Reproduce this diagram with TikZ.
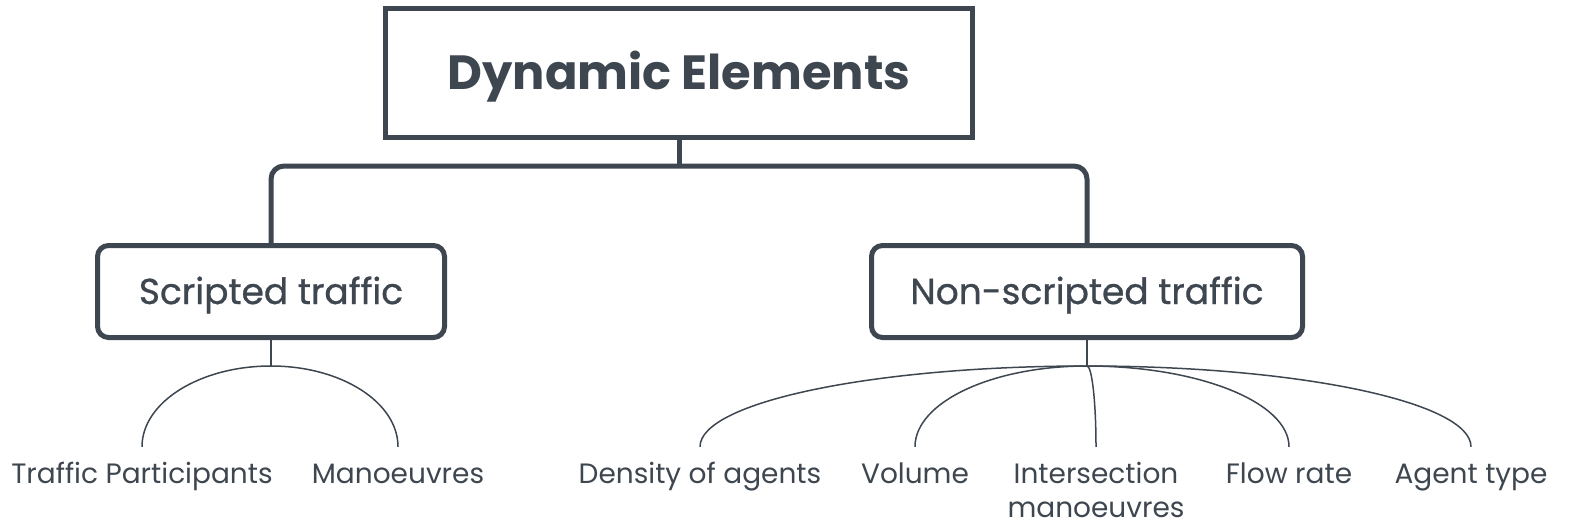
\documentclass[tikz,border=0pt]{standalone}
\usepackage{fontspec}
\setmainfont{Poppins}
\newfontfamily\medfont[FakeBold=0.8]{Poppins}
\usetikzlibrary{calc}
\definecolor{ink}{RGB}{62,70,80}
\begin{document}
\begin{tikzpicture}[x=1pt,y=-1pt,
  mainbox/.style={draw=ink,line width=5pt,text=ink,font=\bfseries\fontsize{48}{52}\selectfont,
    minimum width=587pt,minimum height=129pt,inner sep=0pt,text height=32pt,text depth=0pt},
  catbox/.style={draw=ink,line width=5pt,rounded corners=11pt,text=ink,font=\medfont\fontsize{36}{40}\selectfont,
    minimum height=92pt,inner sep=0pt,text height=25pt,text depth=0pt},
  leaf/.style={text=ink,font=\fontsize{28}{34}\selectfont,anchor=base,inner sep=0pt,text height=20pt,text depth=6pt},
  trunk/.style={draw=ink,line width=5pt},
  twig/.style={draw=ink,line width=1.5pt}]
\useasboundingbox (0,0) rectangle (1569,525);

\node[mainbox] (top) at (679,73) {Dynamic Elements};
\node[catbox,minimum width=347pt] (sc) at (271,291.5) {Scripted traffic};
\node[catbox,minimum width=431pt] (ns) at (1087,291.5) {Non-scripted traffic};

\coordinate (j) at (679,166);
\draw[trunk] (top.south) -- (j);
\draw[trunk,rounded corners=13pt] (sc.north) |- (j) -| (ns.north);

\node[leaf] (tp) at (142,483) {Traffic Participants};
\node[leaf] (mn) at (398,483) {Manoeuvres};
\node[leaf] (dn) at (700,483) {Density of agents};
\node[leaf] (vo) at (915,483) {Volume};
\node[leaf] (im) at (1096,483) {\begin{tabular}[t]{@{}c@{}}Intersection\\manoeuvres\end{tabular}};
\node[leaf] (fr) at (1289,483) {Flow rate};
\node[leaf] (at) at (1471,483) {Agent type};

\coordinate (sj) at (sc.south |- 0,366);
\coordinate (nj) at (ns.south |- 0,366);
\draw[twig] (sc.south) -- (sj);
\draw[twig] (ns.south) -- (nj);

\foreach \n in {tp,mn} {
  \coordinate (\n T) at ([yshift=16pt]\n.north);
  \draw[twig] (sj) .. controls ($(sj)!0.552!(sj-|\n T)$) and ($(\n T)!0.552!(\n T|-sj)$) .. (\n T);
}
\foreach \n in {dn,vo,im,fr,at} {
  \coordinate (\n T) at ([yshift=16pt]\n.north);
  \draw[twig] (nj) .. controls ($(nj)!0.552!(nj-|\n T)$) and ($(\n T)!0.552!(\n T|-nj)$) .. (\n T);
}
\end{tikzpicture}
\end{document}
